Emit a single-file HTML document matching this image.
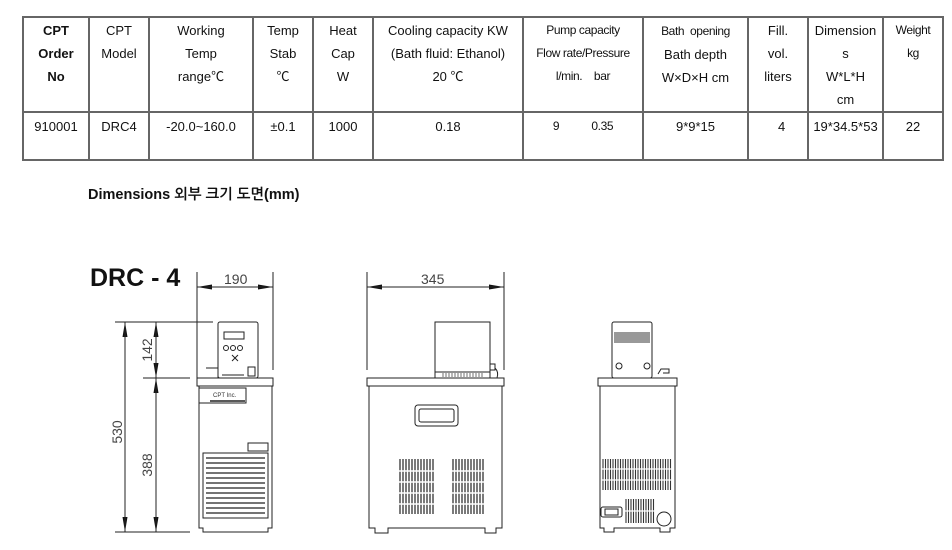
<!DOCTYPE html>
<html><head><meta charset="utf-8">
<style>
html,body{margin:0;padding:0;background:#fff;width:952px;height:550px;overflow:hidden;position:relative;font-family:"Liberation Sans","Noto Sans CJK KR",sans-serif;color:#111}
table{position:absolute;left:22px;top:16px;border-collapse:collapse;font-size:13px;table-layout:fixed}
td{border:2px solid #666;text-align:center;vertical-align:top;padding:0;line-height:23px}
tr.h td{height:91px;padding-top:1px}
tr.d td{height:44px;padding-top:2px}
.b{font-weight:bold}
.sm{font-size:12px;letter-spacing:-0.4px}
.title{position:absolute;left:88px;top:187px;font-weight:bold;font-size:14.5px;font-family:"Liberation Sans","NanumGothic","Noto Sans CJK KR",sans-serif}
.drc{position:absolute;left:90px;top:264px;font-weight:bold;font-size:25px;letter-spacing:0}
svg{position:absolute;left:0;top:0}
</style></head><body>
<table>
<colgroup><col style="width:66px"><col style="width:60px"><col style="width:104px"><col style="width:60px"><col style="width:60px"><col style="width:150px"><col style="width:120px"><col style="width:105px"><col style="width:60px"><col style="width:75px"><col style="width:60px"></colgroup>
<tr class="h"><td class="b">CPT<br>Order<br>No</td><td>CPT<br>Model</td><td>Working<br>Temp<br>range℃</td><td>Temp<br>Stab<br>℃</td><td>Heat<br>Cap<br>W</td><td>Cooling capacity KW<br>(Bath fluid: Ethanol)<br>20 ℃</td><td class="sm">Pump capacity<br>Flow rate/Pressure<br>l/min.&nbsp;&nbsp;&nbsp;&nbsp;bar</td><td><span class="sm">Bath&nbsp; opening</span><br>Bath depth<br>W×D×H cm</td><td>Fill.<br>vol.<br>liters</td><td>Dimension<br>s<br>W*L*H<br>cm</td><td class="sm">Weight<br>kg</td></tr>
<tr class="d"><td>910001</td><td>DRC4</td><td>-20.0~160.0</td><td>±0.1</td><td>1000</td><td>0.18</td><td class="sm">9&nbsp;&nbsp;&nbsp;&nbsp;&nbsp;&nbsp;&nbsp;&nbsp;&nbsp;&nbsp;&nbsp;0.35</td><td>9*9*15</td><td>&nbsp;&nbsp;4</td><td>19*34.5*53</td><td>22</td></tr>
</table>
<div class="title">Dimensions 외부 크기 도면(mm)</div>
<div class="drc">DRC - 4</div>
<svg width="952" height="550" viewBox="0 0 952 550" fill="none" stroke="#222" stroke-width="1">
<g font-family="Liberation Sans, sans-serif" font-size="14" fill="#444" stroke="none">
<text x="224" y="284">190</text>
<text x="421" y="284">345</text>
<text transform="translate(122,432) rotate(-90)" text-anchor="middle">530</text>
<text transform="translate(152,350) rotate(-90)" text-anchor="middle">142</text>
<text transform="translate(152,465) rotate(-90)" text-anchor="middle">388</text>
</g>
<g fill="#111" stroke="none">
<polygon points="197,287 212,284.5 212,289.5"/><polygon points="273,287 258,284.5 258,289.5"/>
<polygon points="367,287 382,284.5 382,289.5"/><polygon points="504,287 489,284.5 489,289.5"/>
<polygon points="125,322 122.5,337 127.5,337"/><polygon points="125,532 122.5,517 127.5,517"/>
<polygon points="156,322 153.5,337 158.5,337"/><polygon points="156,378 153.5,363 158.5,363"/>
<polygon points="156,378 153.5,393 158.5,393"/><polygon points="156,532 153.5,517 158.5,517"/>
</g>
<!-- LEFT -->
<line x1="197" y1="272" x2="197" y2="378"/><line x1="273" y1="272" x2="273" y2="370"/>
<line x1="197" y1="287" x2="273" y2="287"/>
<line x1="115" y1="322" x2="213" y2="322"/><line x1="143" y1="378" x2="190" y2="378"/><line x1="115" y1="532" x2="190" y2="532"/>
<line x1="125" y1="322" x2="125" y2="532"/>
<line x1="156" y1="322" x2="156" y2="532"/>
<rect x="218" y="322" width="40" height="56" rx="2"/>
<rect x="224" y="332" width="20" height="7"/><rect x="248" y="367" width="7" height="9"/>
<circle cx="226" cy="348" r="2.5"/><circle cx="233" cy="348" r="2.5"/><circle cx="240" cy="348" r="2.5"/>
<path d="M232 355 l6 6 M238 355 l-6 6" />
<path d="M206 368 h12 v10 M222 375 h22" />
<rect x="197" y="378" width="76" height="8"/>
<path d="M199 386 V528 H203 V532 H268 V528 H272 V386"/>
<rect x="199" y="388" width="47" height="15"/><line x1="210" y1="401" x2="245" y2="401" stroke-width="1.5"/>
<text x="213" y="397" font-size="6" fill="#333" stroke="none" font-family="Liberation Sans">CPT Inc.</text>
<rect x="248" y="443" width="20" height="8"/>
<rect x="203" y="453" width="65" height="65"/>
<g stroke-width="1.2"><line x1="206" y1="458" x2="265" y2="458"/><line x1="206" y1="463" x2="265" y2="463"/><line x1="206" y1="468" x2="265" y2="468"/><line x1="206" y1="473" x2="265" y2="473"/><line x1="206" y1="478" x2="265" y2="478"/><line x1="206" y1="483" x2="265" y2="483"/><line x1="206" y1="488" x2="265" y2="488"/><line x1="206" y1="493" x2="265" y2="493"/><line x1="206" y1="498" x2="265" y2="498"/><line x1="206" y1="503" x2="265" y2="503"/><line x1="206" y1="508" x2="265" y2="508"/><line x1="206" y1="513" x2="265" y2="513"/></g>
<!-- MIDDLE -->
<line x1="367" y1="272" x2="367" y2="370"/><line x1="504" y1="272" x2="504" y2="370"/>
<line x1="367" y1="287" x2="504" y2="287"/>
<rect x="435" y="322" width="55" height="50"/><rect x="435" y="372" width="55" height="6"/>
<g stroke="#333" stroke-width="0.7"><path d="M443 373 v4 M446 373 v4 M449 373 v4 M452 373 v4 M455 373 v4 M458 373 v4 M461 373 v4 M464 373 v4 M467 373 v4 M470 373 v4 M473 373 v4 M476 373 v4 M479 373 v4 M482 373 v4"/></g>
<rect x="490" y="364" width="5" height="6"/><path d="M495 368 q4 4 2 10"/>
<rect x="367" y="378" width="137" height="8"/>
<path d="M369 386 V528 H375 V533 H388 V528 H485 V533 H496 V528 H502 V386"/>
<rect x="415" y="405" width="43" height="21" rx="3"/><rect x="419" y="409" width="35" height="13" rx="2"/>
<g stroke="#333" stroke-width="1.3">
<path d="M400 459 v55 M403 459 v55 M406 459 v55 M409 459 v55 M412 459 v55 M415 459 v55 M418 459 v55 M421 459 v55 M424 459 v55 M427 459 v55 M430 459 v55 M433 459 v55"/>
<path d="M453 459 v55 M456 459 v55 M459 459 v55 M462 459 v55 M465 459 v55 M468 459 v55 M471 459 v55 M474 459 v55 M477 459 v55 M480 459 v55 M483 459 v55"/>
</g>
<g stroke="#fff" stroke-width="1.5"><path d="M398 471 h38 M398 482 h38 M398 493 h38 M398 504 h38 M452 471 h33 M452 482 h33 M452 493 h33 M452 504 h33"/></g>
<!-- RIGHT -->
<rect x="612" y="322" width="40" height="56" rx="2"/>
<g stroke="#333" stroke-width="1"><path d="M615 332 v11 M617 332 v11 M619 332 v11 M621 332 v11 M623 332 v11 M625 332 v11 M627 332 v11 M629 332 v11 M631 332 v11 M633 332 v11 M635 332 v11 M637 332 v11 M639 332 v11 M641 332 v11 M643 332 v11 M645 332 v11 M647 332 v11 M649 332 v11"/></g>
<circle cx="619" cy="366" r="3"/><circle cx="647" cy="366" r="3"/>
<path d="M658 374 l3 -5 h8 v4 h-6"/>
<rect x="598" y="378" width="79" height="8"/>
<path d="M600 386 V528 H604 V532 H614 V528 H660 V532 H670 V528 H675 V386"/>
<g stroke="#333" stroke-width="1.1">
<path d="M603 459 v31 M605.5 459 v31 M608 459 v31 M610.5 459 v31 M613 459 v31 M615.5 459 v31 M618 459 v31 M620.5 459 v31 M623 459 v31 M625.5 459 v31 M628 459 v31 M630.5 459 v31 M633 459 v31 M635.5 459 v31 M638 459 v31 M640.5 459 v31 M643 459 v31 M645.5 459 v31 M648 459 v31 M650.5 459 v31 M653 459 v31 M655.5 459 v31 M658 459 v31 M660.5 459 v31 M663 459 v31 M665.5 459 v31 M668 459 v31 M670.5 459 v31"/>
<path d="M626 499 v24 M628.5 499 v24 M631 499 v24 M633.5 499 v24 M636 499 v24 M638.5 499 v24 M641 499 v24 M643.5 499 v24 M646 499 v24 M648.5 499 v24 M651 499 v24 M653.5 499 v24"/>
</g>
<g stroke="#fff" stroke-width="1.3"><path d="M602 469 h72 M602 480 h72 M625 511 h30"/></g>
<rect x="601" y="507" width="21" height="10" rx="2"/><rect x="605" y="509" width="13" height="6"/>
<circle cx="664" cy="519" r="7"/>
</svg>
</body></html>
